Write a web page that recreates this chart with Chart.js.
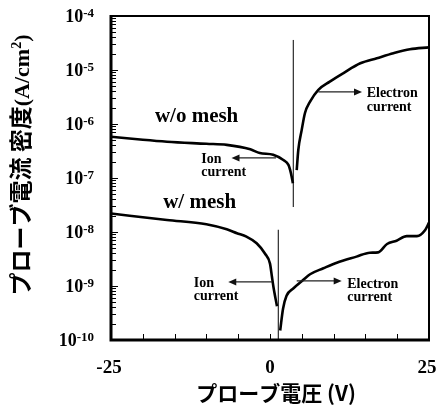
<!DOCTYPE html>
<html>
<head>
<meta charset="utf-8">
<script src="https://cdn.jsdelivr.net/npm/chart.js@4/dist/chart.umd.min.js"></script>
<style>
  html, body { margin: 0; padding: 0; background: #fff; }
  #wrap { width: 439px; height: 410px; }
</style>
</head>
<body>
<div id="wrap"><canvas id="c" width="439" height="410"></canvas></div>
<script>
// Probe I-V characteristics: probe voltage (V) vs. current density (A/cm2)
// Without mesh: ion-current branch and electron-current branch
const woIonV = [-25, -20, -16.2, -10, -6.8, -3.1, -1.6, 0.5, 2.1, 2.9, 3.3, 3.6];
const woIonJ = [5.8e-7, 5.1e-7, 4.7e-7, 4.3e-7, 4.1e-7, 3.4e-7, 2.9e-7, 2.7e-7, 2.15e-7, 1.75e-7, 1.22e-7, 8.0e-8];
const woElecV = [4.2, 4.45, 4.98, 5.5, 6.3, 7.6, 9.4, 11.5, 14.2, 16.8, 19.4, 22.0, 25];
const woElecJ = [1.4e-7, 3.3e-7, 7.7e-7, 1.6e-6, 2.6e-6, 4.3e-6, 6.1e-6, 8.7e-6, 1.33e-5, 1.65e-5, 2.04e-5, 2.42e-5, 2.63e-5];

// With mesh
const wIonV = [-25, -16.2, -10, -6.8, -5.2, -3.7, -2.1, -0.8, 0, 0.3, 0.55, 1.1];
const wIonJ = [2.2e-8, 1.67e-8, 1.39e-8, 1.12e-8, 9.5e-9, 8.2e-9, 6.2e-9, 4.0e-9, 2.6e-9, 1.5e-9, 9.5e-10, 4.2e-10];
const wElecV = [1.6, 2.05, 2.6, 3.7, 5.2, 6.3, 8.4, 10.5, 13.6, 15.7, 17.0, 18.4, 19.9, 21.5, 23.1, 24.4, 25];
const wElecJ = [1.5e-10, 3.8e-10, 6.6e-10, 9.1e-10, 1.29e-9, 1.65e-9, 2.13e-9, 2.7e-9, 3.5e-9, 4.14e-9, 4.2e-9, 6.0e-9, 6.9e-9, 8.4e-9, 8.4e-9, 1.09e-8, 1.49e-8];

// Floating-potential marker lines (voltage, lower and upper current density)
const markerV = [3.66, 1.3];
const markerLow = [2.9e-8, 1e-10];
const markerHigh = [3.6e-5, 1.1e-8];

// Axis ticks
const xTicks = [-25, -20, -15, -10, -5, 0, 5, 10, 15, 20, 25];
const xTickLabels = ['-25', '0', '25'];
const yExponents = [-4, -5, -6, -7, -8, -9, -10];

const pts = (vs, js) => vs.map((v, i) => ({ x: v, y: js[i] }));

const curve = (vs, js) => ({
  data: pts(vs, js),
  borderColor: '#000',
  borderWidth: 2.6,
  pointRadius: 0,
  cubicInterpolationMode: 'monotone',
  fill: false
});
const marker = (i) => ({
  data: [{ x: markerV[i], y: markerLow[i] }, { x: markerV[i], y: markerHigh[i] }],
  borderColor: '#000',
  borderWidth: 1,
  pointRadius: 0,
  fill: false
});

// Text notes and arrows, anchored in data coordinates
const notes = [
  { lines: ['w/o mesh'], v: -18.1, j: 1.09e-6, size: 21 },
  { lines: ['w/ mesh'], v: -16.8, j: 2.78e-8, size: 21 },
  { lines: ['Ion', 'current'], v: -10.8, j: 1.9e-7, size: 14 },
  { lines: ['Electron', 'current'], v: 15.2, j: 3.16e-6, size: 14 },
  { lines: ['Ion', 'current'], v: -12.0, j: 9.6e-10, size: 14 },
  { lines: ['Electron', 'current'], v: 12.15, j: 9.2e-10, size: 14 }
];
const arrows = [
  { from: 0.94, to: -6.05, j: 2.35e-7 },
  { from: 7.6, to: 14.47, j: 3.92e-6 },
  { from: 0.31, to: -6.56, j: 1.19e-9 },
  { from: 4.2, to: 11.27, j: 1.24e-9 }
];

const SERIF = '"Liberation Serif", "Times New Roman", serif';
const GOTHIC = '"Noto Sans CJK JP", "Noto Sans", sans-serif';

const decor = {
  id: 'decor',
  afterDraw(chart) {
    const { ctx, chartArea: a, scales } = chart;
    const px = v => scales.x.getPixelForValue(v);
    const py = j => scales.y.getPixelForValue(j);
    ctx.save();
    ctx.strokeStyle = '#000';
    ctx.fillStyle = '#000';

    // frame
    ctx.lineWidth = 2;
    ctx.beginPath();
    ctx.moveTo(a.left, a.top); ctx.lineTo(a.right, a.top); ctx.lineTo(a.right, a.bottom);
    ctx.stroke();
    ctx.lineWidth = 3;
    ctx.beginPath();
    ctx.moveTo(a.left, a.top - 1); ctx.lineTo(a.left, a.bottom); ctx.lineTo(a.right + 1, a.bottom);
    ctx.stroke();

    // inward ticks
    ctx.lineWidth = 1;
    ctx.beginPath();
    xTicks.forEach(v => {
      if (v === -25 || v === 25) return;
      const x = Math.round(px(v)) + 0.5;
      ctx.moveTo(x, a.bottom); ctx.lineTo(x, a.bottom - 6);
    });
    for (let e = -10; e < -4; e++) {
      for (let m = 1; m <= 9; m++) {
        if (e === -10 && m === 1) continue;
        const y = Math.round(py(m * Math.pow(10, e))) + 0.5;
        ctx.moveTo(a.left, y); ctx.lineTo(a.left + (m === 1 ? 7 : 5), y);
      }
    }
    ctx.stroke();

    // y tick labels 10^n
    yExponents.forEach(e => {
      const y = py(Math.pow(10, e));
      const sup = String(e);
      ctx.font = 'bold 13px ' + SERIF;
      const ws = ctx.measureText(sup).width;
      ctx.font = 'bold 18px ' + SERIF;
      const wb = ctx.measureText('10').width;
      const right = 94;
      ctx.textAlign = 'left';
      ctx.textBaseline = 'alphabetic';
      ctx.fillText('10', right - ws - wb, y + 6);
      ctx.font = 'bold 13px ' + SERIF;
      ctx.fillText(sup, right - ws, y + 1);
    });

    // x tick labels
    ctx.font = 'bold 19px ' + SERIF;
    ctx.textAlign = 'center';
    ctx.textBaseline = 'alphabetic';
    xTickLabels.forEach(t => {
      let x = px(Number(t));
      if (t === '-25') x -= 2;
      if (t === '25') x -= 2;
      ctx.fillText(t, x, 373);
    });

    // x axis title
    ctx.font = 'bold 21px ' + GOTHIC;
    ctx.textBaseline = 'middle';
    ctx.fillText('プローブ電圧 (V)', 276, 393);

    // y axis title (rotated)
    const parts = [
      { t: 'プローブ電流 密度', f: 'bold 23px ' + GOTHIC, rise: 0 },
      { t: '(A/cm', f: 'bold 22px ' + SERIF, rise: 0 },
      { t: '2', f: 'bold 14px ' + SERIF, rise: 8 },
      { t: ')', f: 'bold 22px ' + SERIF, rise: 0 }
    ];
    let total = 0;
    parts.forEach(p => { ctx.font = p.f; p.w = ctx.measureText(p.t).width; total += p.w; });
    ctx.translate(20, 165);
    ctx.rotate(-Math.PI / 2);
    ctx.textAlign = 'left';
    ctx.textBaseline = 'alphabetic';
    let cx = -total / 2;
    parts.forEach(p => {
      ctx.font = p.f;
      ctx.fillText(p.t, cx, 9 - p.rise);
      cx += p.w;
    });
    ctx.setTransform(1, 0, 0, 1, 0, 0);

    // notes
    ctx.textAlign = 'left';
    ctx.textBaseline = 'alphabetic';
    notes.forEach(n => {
      ctx.font = 'bold ' + n.size + 'px ' + SERIF;
      const x = px(n.v), y = py(n.j);
      n.lines.forEach((l, i) => ctx.fillText(l, x, y + i * 13.5));
    });

    // arrows
    ctx.strokeStyle = '#222';
    ctx.fillStyle = '#111';
    ctx.lineWidth = 1.2;
    arrows.forEach(ar => {
      const x0 = px(ar.from), x1 = px(ar.to), y = py(ar.j);
      const dir = Math.sign(x1 - x0);
      ctx.beginPath();
      ctx.moveTo(x0, y); ctx.lineTo(x1 - dir * 6, y);
      ctx.stroke();
      ctx.beginPath();
      ctx.moveTo(x1, y);
      ctx.lineTo(x1 - dir * 8, y - 3.5);
      ctx.lineTo(x1 - dir * 8, y + 3.5);
      ctx.closePath();
      ctx.fill();
    });
    ctx.restore();
  }
};

new Chart(document.getElementById('c'), {
  type: 'line',
  data: {
    datasets: [
      curve(woIonV, woIonJ),
      curve(woElecV, woElecJ),
      curve(wIonV, wIonJ),
      curve(wElecV, wElecJ),
      marker(0),
      marker(1)
    ]
  },
  options: {
    responsive: false,
    animation: false,
    layout: { padding: { left: 111, top: 16, right: 10, bottom: 70 } },
    scales: {
      x: { type: 'linear', min: -25, max: 25, display: false },
      y: { type: 'logarithmic', min: 1e-10, max: 1e-4, display: false }
    },
    plugins: { legend: { display: false }, tooltip: { enabled: false } }
  },
  plugins: [decor]
});
</script>
</body>
</html>
